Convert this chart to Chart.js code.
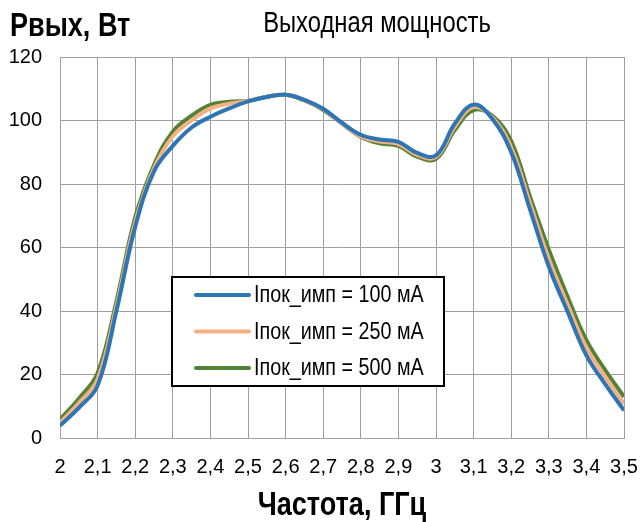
<!DOCTYPE html>
<html lang="ru">
<head>
<meta charset="UTF-8">
<title>Выходная мощность</title>
<script src="https://cdn.jsdelivr.net/npm/chart.js@4.4.0/dist/chart.umd.min.js"></script>
<style>
  html, body { margin: 0; padding: 0; background: #fff; }
  canvas { display: block; }
</style>
</head>
<body>
<canvas id="chart" width="640" height="522"></canvas>
<script>
// частота, ГГц
const freq = [2.00, 2.05, 2.10, 2.15, 2.20, 2.25, 2.30, 2.35, 2.40, 2.45, 2.50,
              2.55, 2.60, 2.65, 2.70, 2.75, 2.80, 2.85, 2.90, 2.95, 3.00,
              3.05, 3.10, 3.15, 3.20, 3.25, 3.30, 3.35, 3.40, 3.45, 3.50];

// Рвых, Вт
const p100 = [3.9, 9.5, 16.5, 40, 66.5, 84, 92, 97.8, 101.2, 103.8, 106,
              107.4, 108.1, 106.5, 103.7, 99.3, 95.5, 94, 93.3, 89.8, 89,
              99, 105, 100.5, 90, 72, 54, 39.8, 26, 17, 8.7];
const p250 = [4.8, 11, 18.5, 41.5, 68, 85, 95, 100, 103.8, 105.3, 106.2,
              107.5, 108.1, 106.4, 103.5, 99.1, 95, 93.4, 92.6, 89.2, 88.5,
              98, 104.2, 101, 91.5, 74, 56.5, 42, 28.5, 19.3, 10.8];
const p500 = [5.8, 12.4, 20.5, 43, 69.5, 86, 96.5, 101.5, 104.9, 105.9, 106.2,
              107.5, 108.1, 106.3, 103.3, 99, 94.8, 92.8, 92, 88.6, 87.9,
              97, 103.3, 101.5, 93.5, 76, 59.3, 44.5, 30.8, 21.4, 13];

const seriesLabels = ['Iпок_имп = 100 мА', 'Iпок_имп = 250 мА', 'Iпок_имп = 500 мА'];
const seriesColors = ['#2e75b6', '#f4b183', '#548235'];

const FONT = '"Liberation Sans", Arial, sans-serif';
const GRID = '#9f9f9f';

function points(vals) {
    return freq.map((f, i) => ({ x: f, y: vals[i] }));
}

// узкий шрифт: сжимаем текст по горизонтали
function narrowText(ctx, text, x, y, font, align, sx) {
    ctx.save();
    ctx.translate(x, y);
    ctx.scale(sx, 1);
    ctx.font = font;
    ctx.textAlign = align;
    ctx.textBaseline = 'middle';
    ctx.fillStyle = '#000';
    ctx.fillText(text, 0, 0);
    ctx.restore();
}

// подписи осей, заголовок и легенда внутри области графика
const extras = {
    id: 'extras',
    afterDraw(chart) {
        const ctx = chart.ctx;
        const area = chart.chartArea;
        narrowText(ctx, 'Рвых, Вт', 10, 27, 'bold 33px ' + FONT, 'left', 0.82);
        narrowText(ctx, 'Выходная мощность', 377, 24, '29px ' + FONT, 'center', 0.82);
        narrowText(ctx, 'Частота, ГГц', (area.left + area.right) / 2, 506,
                   'bold 33px ' + FONT, 'center', 0.82);

        // легенда
        const lx = 172, ly = 277, lw = 272, lh = 109;
        ctx.save();
        ctx.fillStyle = '#fff';
        ctx.fillRect(lx, ly, lw, lh);
        ctx.lineWidth = 2;
        ctx.strokeStyle = '#000';
        ctx.strokeRect(lx, ly, lw, lh);
        chart.data.datasets.forEach((ds, i) => {
            const y = ly + 18 + i * 36.5;
            ctx.beginPath();
            ctx.lineCap = 'round';
            ctx.lineWidth = 4;
            ctx.strokeStyle = ds.borderColor;
            ctx.moveTo(lx + 24, y);
            ctx.lineTo(lx + 77, y);
            ctx.stroke();
            narrowText(ctx, ds.label, lx + 82, y + 1, '23.5px ' + FONT, 'left', 0.84);
        });
        ctx.restore();
    }
};

new Chart(document.getElementById('chart'), {
    type: 'line',
    data: {
        datasets: [0, 1, 2].map(i => ({
            label: seriesLabels[i],
            data: points([p100, p250, p500][i]),
            borderColor: seriesColors[i],
            backgroundColor: seriesColors[i],
            borderWidth: 4,
            pointRadius: 0,
            tension: 0.4,
            fill: false
        }))
    },
    options: {
        responsive: false,
        animation: false,
        devicePixelRatio: 1,
        layout: { padding: { top: 57, right: 16, left: 0, bottom: 0 } },
        plugins: {
            legend: { display: false },
            title: { display: false },
            tooltip: { enabled: false }
        },
        scales: {
            x: {
                type: 'linear',
                min: 2,
                max: 3.5,
                afterFit(scale) {
                    scale.height = 84;
                    scale.paddingLeft = 0;
                    scale.paddingRight = 0;
                },
                ticks: {
                    stepSize: 0.1,
                    autoSkip: false,
                    maxRotation: 0,
                    padding: 17,
                    color: '#000',
                    font: { family: FONT, size: 20 },
                    callback: v => String(Math.round(v * 10) / 10).replace('.', ',')
                },
                grid: { color: GRID, lineWidth: 1, drawTicks: false },
                border: { color: GRID, width: 1 }
            },
            y: {
                min: 0,
                max: 120,
                afterFit(scale) { scale.width = 60; },
                ticks: {
                    stepSize: 20,
                    padding: 18,
                    color: '#000',
                    font: { family: FONT, size: 20 }
                },
                grid: { color: GRID, lineWidth: 1, drawTicks: false },
                border: { color: GRID, width: 1 }
            }
        }
    },
    plugins: [extras]
});
</script>
</body>
</html>
